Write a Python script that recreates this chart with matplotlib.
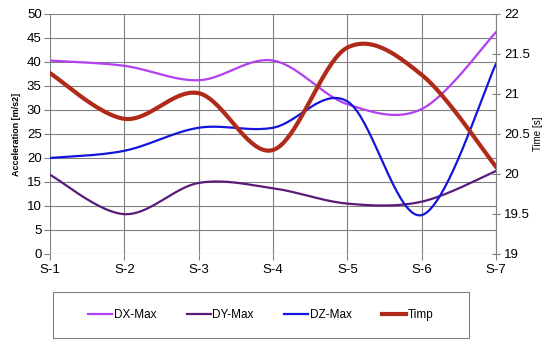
import numpy as np
import matplotlib
matplotlib.use("Agg")
import matplotlib.pyplot as plt
from matplotlib.patches import Rectangle

plt.rcParams['font.family'] = ['Liberation Sans', 'DejaVu Sans']

categories = ["S-1", "S-2", "S-3", "S-4", "S-5", "S-6", "S-7"]
dx_max = [40.3, 39.2, 36.2, 40.3, 31.2, 30.2, 46.2]
dy_max = [16.5, 8.3, 14.8, 13.7, 10.5, 10.9, 17.3]
dz_max = [20.0, 21.5, 26.3, 26.3, 31.8, 8.1, 39.6]
timp = [21.26, 20.69, 21.01, 20.30, 21.58, 21.24, 20.09]

left_ticks = list(range(0, 51, 5))
right_ticks = [19, 19.5, 20, 20.5, 21, 21.5, 22]
right_labels = ['19', '19.5', '20', '20.5', '21', '21.5', '22']

def smooth(xs, ys, n=40):
    # Bezier smoothing through the points (Excel-like "smoothed line")
    P = np.column_stack([xs, ys]).astype(float)
    out = []
    m = len(P)
    for i in range(m - 1):
        p0 = P[i - 1] if i > 0 else P[i]
        p1 = P[i]
        p2 = P[i + 1]
        p3 = P[i + 2] if i + 2 < m else P[i + 1]
        c1 = p1 + (p2 - p0) / 6.0
        c2 = p2 - (p3 - p1) / 6.0
        t = np.linspace(0, 1, n)[:, None]
        seg = ((1 - t) ** 3) * p1 + 3 * ((1 - t) ** 2) * t * c1 + 3 * (1 - t) * t ** 2 * c2 + t ** 3 * p2
        out.append(seg if i == 0 else seg[1:])
    s = np.vstack(out)
    return s[:, 0], s[:, 1]

fig = plt.figure(figsize=(5.5, 3.45), dpi=100)
ax = fig.add_axes([50 / 550, 1 - 254 / 345, 446 / 550, 240 / 345])
ax2 = ax.twinx()

x = np.arange(len(categories))
c_dx = '#B040F0'
c_dy = '#5A1A7A'
c_dz = '#1414DC'
c_t = '#B02A1A'

l1, = ax.plot(*smooth(x, dx_max), color=c_dx, lw=1.6, label='DX-Max')
l2, = ax.plot(*smooth(x, dy_max), color=c_dy, lw=1.6, label='DY-Max')
l3, = ax.plot(*smooth(x, dz_max), color=c_dz, lw=1.6, label='DZ-Max')
l4, = ax2.plot(*smooth(x, timp), color=c_t, lw=3.0, label='Timp')

ax.set_xlim(0, len(categories) - 1)
ax.set_ylim(0, 50)
ax.set_yticks(left_ticks)
ax.set_xticks(x)
ax.set_xticklabels(categories)
ax2.set_ylim(19, 22)
ax2.set_yticks(right_ticks)
ax2.set_yticklabels(right_labels)

ax.grid(True, color='#808080', lw=0.8)
ax.set_axisbelow(True)
for a in (ax, ax2):
    for s in a.spines.values():
        s.set_visible(False)
ax2.spines['right'].set_visible(True)
ax2.spines['right'].set_color('#808080')
ax2.spines['right'].set_linewidth(0.8)

ax.tick_params(axis='y', length=4, color='#808080', labelsize=9.5, pad=2)
ax.tick_params(axis='x', length=4, color='#808080', labelsize=9.5, pad=3)
ax2.tick_params(axis='y', length=6, direction='inout', color='#808080', labelsize=9.5, pad=3)

ax.set_ylabel('Acceleration [m/s2]', fontsize=6.5, fontweight='bold', labelpad=4)
ax2.set_ylabel('Time [s]', fontsize=7, labelpad=2)

# legend box
fig.patches.append(Rectangle((53 / 550, 1 - 338 / 345), 416 / 550, 46 / 345,
                             transform=fig.transFigure, fill=False,
                             edgecolor='#808080', lw=0.8))
leg = fig.legend(handles=[l1, l2, l3, l4], loc='center',
                 bbox_to_anchor=(261 / 550, 1 - 315 / 345), ncol=4, frameon=False,
                 fontsize=8.5, handlelength=2.0, handletextpad=0.15, columnspacing=2.6)

fig.savefig('out.png', dpi=100)
